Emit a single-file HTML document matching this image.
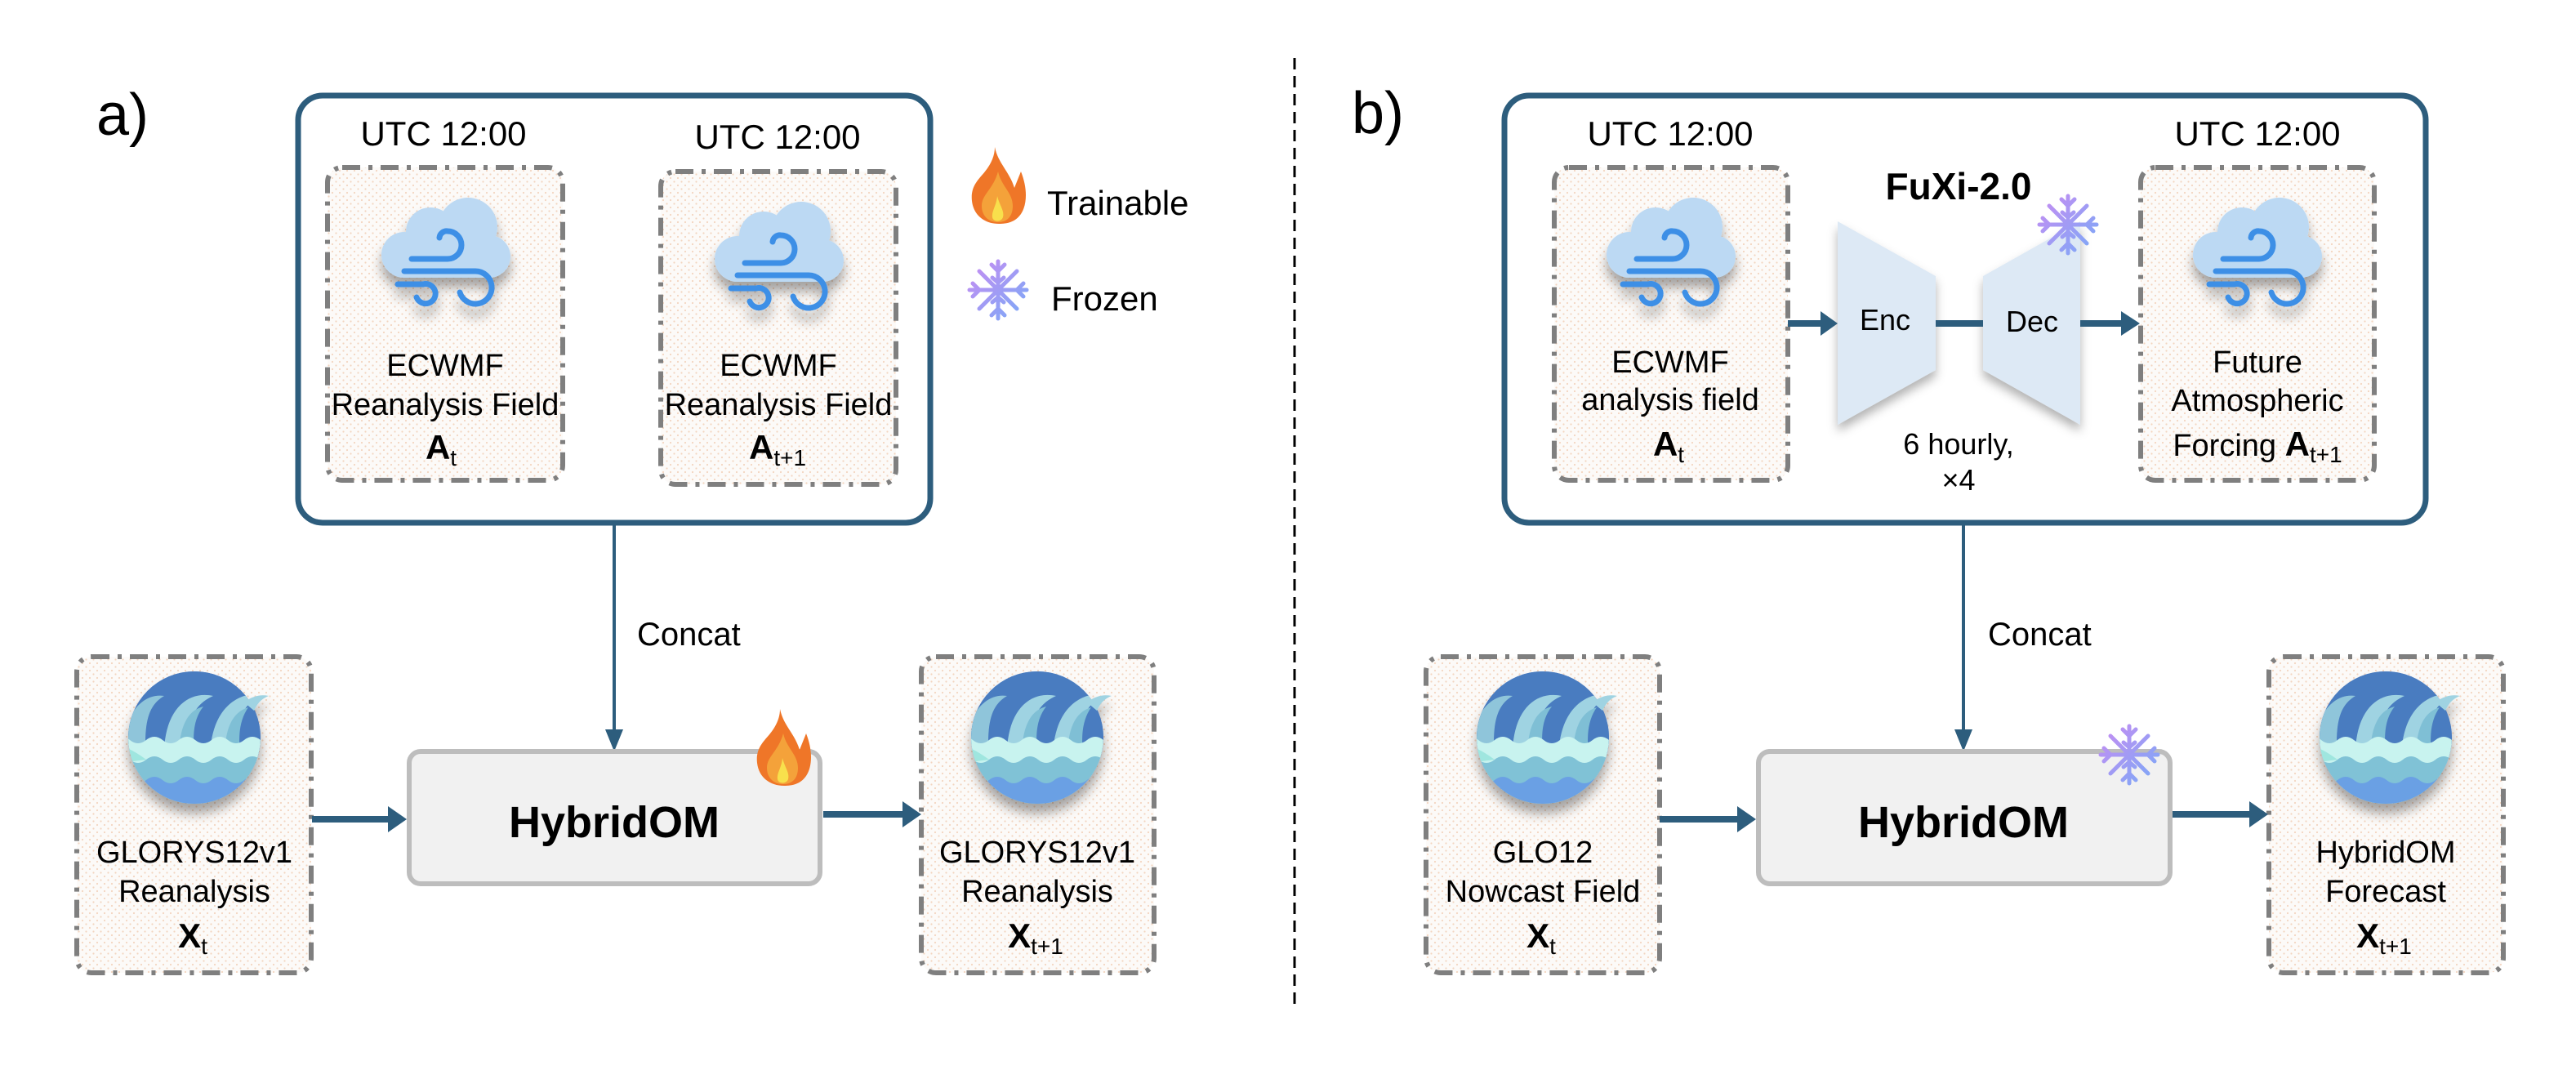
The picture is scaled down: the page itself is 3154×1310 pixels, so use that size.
<!DOCTYPE html>
<html><head><meta charset="utf-8"><style>
html,body{margin:0;padding:0;background:#fff;}
svg{display:block;}
text{font-family:"Liberation Sans",sans-serif;fill:#000;}
</style></head><body>
<svg width="3154" height="1310" viewBox="0 0 3154 1310" xmlns="http://www.w3.org/2000/svg">
<defs>
<pattern id="dots" width="9" height="9" patternUnits="userSpaceOnUse">
<rect width="9" height="9" fill="#fcfaf8"/>
<circle cx="2" cy="2" r="1.1" fill="#f3d5c0"/>
<circle cx="6.5" cy="6.5" r="1.1" fill="#f3d5c0"/>
</pattern>
<filter id="sh" x="-30%" y="-30%" width="160%" height="170%">
<feDropShadow dx="0" dy="12" stdDeviation="7" flood-color="#000" flood-opacity="0.35"/>
</filter>
<filter id="sh2" x="-30%" y="-30%" width="160%" height="160%">
<feDropShadow dx="0" dy="8" stdDeviation="6" flood-color="#000" flood-opacity="0.3"/>
</filter>
<linearGradient id="snowg" gradientUnits="userSpaceOnUse" x1="0" y1="0" x2="74" y2="74">
<stop offset="0" stop-color="#c98cf2"/><stop offset="1" stop-color="#78aaf7"/>
</linearGradient>
<g id="cloud">
<g filter="url(#sh)">
<g fill="#bcd9f3">
<circle cx="30" cy="72" r="28"/>
<circle cx="62" cy="44" r="30"/>
<circle cx="108" cy="38" r="36"/>
<circle cx="134" cy="74" r="26"/>
<rect x="30" y="50" width="104" height="50"/>
</g>
<g fill="none" stroke="#3d8fe6" stroke-width="7" stroke-linecap="round">
<path d="M39,77 H83 A17,17 0 0 0 83,43 A9,9 0 0 0 73,51"/>
<path d="M30,92 H117 A20,20 0 1 1 98,118"/>
<path d="M22,108 H53 A12,12 0 1 1 45,124"/>
</g>
</g>
</g>
<clipPath id="oc"><circle cx="99" cy="93" r="81"/></clipPath>
<g id="ocean">
<g filter="url(#sh)">
<circle cx="99" cy="93" r="81" fill="#4a7bc0"/>
<g clip-path="url(#oc)">
<rect x="0" y="0" width="200" height="200" fill="#4a7bc0"/>
<path d="M10,120 C10,65 35,38 62,42 C45,52 36,70 40,120 Z" fill="#8fc5da"/>
<path d="M62,120 C60,60 90,35 122,42 C100,52 88,70 90,120 Z" fill="#9fd3e2"/>
<path d="M80,120 C80,80 90,60 110,55 C98,70 96,90 100,120 Z" fill="#7fbfd5"/>
<path d="M118,120 C118,60 150,35 186,40 C160,48 148,70 150,120 Z" fill="#9fd3e2"/>
<path d="M136,120 C136,80 146,62 165,56 C154,72 152,92 156,120 Z" fill="#7fbfd5"/>
<path d="M0,96 Q10,88 20,96 T40,96 T60,96 T80,96 T100,96 T120,96 T140,96 T160,96 T180,96 T200,96 V200 H0 Z" fill="#c8f3ef"/>
<path d="M0,100 Q20,105 40,120 L0,125 Z" fill="#9fe6df"/>
<path d="M0,120 Q10,112 20,120 T40,120 T60,120 T80,120 T100,120 T120,120 T140,120 T160,120 T180,120 T200,120 V200 H0 Z" fill="#80c2d6"/>
<path d="M0,145 Q10,137 20,145 T40,145 T60,145 T80,145 T100,145 T120,145 T140,145 T160,145 T180,145 T200,145 V200 H0 Z" fill="#6aa0e4"/>
</g>
<path d="M160,50 C170,42 180,40 190,42 C180,46 176,52 172,60 Z" fill="#9fd3e2"/>
</g>
</g>
<g id="flame">
<path d="M30,0 C34,20 48,30 54,50 C58,40 60,35 62,30 C70,50 70,70 62,82 C55,92 45,94 35,94 C18,94 4,84 2,66 C0,48 10,40 18,30 C26,20 30,10 30,0 Z" fill="#ef7628"/>
<path d="M34,30 C38,48 52,56 52,72 C52,86 44,92 34,92 C22,92 14,84 14,72 C14,58 28,52 34,30 Z" fill="#f4a23a"/>
<path d="M33,60 C36,72 42,78 40,86 C38,92 28,92 27,86 C26,78 32,72 33,60 Z" fill="#f8e04c"/>
</g>
<g id="snow" fill="none" stroke="url(#snowg)" stroke-width="5" stroke-linecap="round">
<line x1="37" y1="2" x2="37" y2="72"/>
<line x1="2" y1="37" x2="72" y2="37"/>
<line x1="14" y1="14" x2="60" y2="60"/>
<line x1="14" y1="60" x2="60" y2="14"/>
<path d="M29,6 L37,14 L45,6 M29,68 L37,60 L45,68"/>
<path d="M6,29 L14,37 L6,45 M68,29 L60,37 L68,45"/>
<path d="M30,22 L37,28 L44,22 M30,52 L37,46 L44,52"/>
</g>
</defs>

<line x1="1585" y1="71" x2="1585" y2="1235" stroke="#000" stroke-width="3" stroke-dasharray="14 8"/>

<!-- ===== Panel a ===== -->
<text x="118" y="165" font-size="72">a)</text>
<rect x="365" y="117" width="774" height="523" rx="30" fill="#fff" stroke="#2d5d7d" stroke-width="7"/>
<text x="543" y="178" font-size="42" text-anchor="middle">UTC 12:00</text>
<text x="952" y="182" font-size="42" text-anchor="middle">UTC 12:00</text>

<g stroke="#7f7f7f" stroke-width="6" stroke-dasharray="22 10 5 10" fill="url(#dots)">
<rect x="401" y="205" width="288" height="383" rx="18"/>
<rect x="809" y="210" width="288" height="383" rx="18"/>
<rect x="94" y="804" width="287" height="387" rx="18"/>
<rect x="1128" y="804" width="285" height="387" rx="18"/>
<rect x="1746" y="804" width="286" height="387" rx="18"/>
<rect x="2778" y="804" width="287" height="387" rx="18"/>
</g>

<use href="#cloud" x="465" y="240"/>
<use href="#cloud" x="873" y="245"/>
<g font-size="38" text-anchor="middle">
<text x="545" y="460">ECWMF</text>
<text x="545" y="508">Reanalysis Field</text>
<text x="953" y="460">ECWMF</text>
<text x="953" y="508">Reanalysis Field</text>
</g>
<text x="540" y="562" font-size="42" font-weight="bold" text-anchor="middle">A<tspan font-size="28" dy="8" font-weight="normal">t</tspan></text>
<text x="952" y="562" font-size="42" font-weight="bold" text-anchor="middle">A<tspan font-size="28" dy="8" font-weight="normal">t+1</tspan></text>

<use href="#flame" x="1188" y="180"/>
<text x="1282" y="263" font-size="42">Trainable</text>
<use href="#snow" x="1185" y="318"/>
<text x="1287" y="380" font-size="42">Frozen</text>

<line x1="752" y1="640" x2="752" y2="896" stroke="#2d5d7d" stroke-width="4"/>
<polygon points="741,893 763,893 752,920" fill="#2d5d7d"/>
<text x="780" y="790" font-size="40">Concat</text>

<rect x="501" y="920" width="503" height="162" rx="14" fill="#f1f1f1" stroke="#bdbdbd" stroke-width="6"/>
<text x="752" y="1025" font-size="54" font-weight="bold" text-anchor="middle">HybridOM</text>
<use href="#flame" x="925" y="868"/>

<use href="#ocean" x="139" y="810"/>
<use href="#ocean" x="1171" y="810"/>
<g font-size="38" text-anchor="middle">
<text x="238" y="1056">GLORYS12v1</text>
<text x="238" y="1104">Reanalysis</text>
<text x="1270" y="1056">GLORYS12v1</text>
<text x="1270" y="1104">Reanalysis</text>
</g>
<text x="236" y="1160" font-size="42" font-weight="bold" text-anchor="middle">X<tspan font-size="28" dy="8" font-weight="normal">t</tspan></text>
<text x="1268" y="1160" font-size="42" font-weight="bold" text-anchor="middle">X<tspan font-size="28" dy="8" font-weight="normal">t+1</tspan></text>

<line x1="382" y1="1003" x2="478" y2="1003" stroke="#2d5d7d" stroke-width="8"/>
<polygon points="475,987 475,1019 498,1003" fill="#2d5d7d"/>
<line x1="1008" y1="997" x2="1108" y2="997" stroke="#2d5d7d" stroke-width="8"/>
<polygon points="1105,981 1105,1013 1128,997" fill="#2d5d7d"/>

<!-- ===== Panel b ===== -->
<text x="1655" y="163" font-size="72">b)</text>
<rect x="1842" y="117" width="1128" height="523" rx="30" fill="#fff" stroke="#2d5d7d" stroke-width="7"/>
<text x="2045" y="178" font-size="42" text-anchor="middle">UTC 12:00</text>
<text x="2764" y="178" font-size="42" text-anchor="middle">UTC 12:00</text>
<g stroke="#7f7f7f" stroke-width="6" stroke-dasharray="22 10 5 10" fill="url(#dots)">
<rect x="1903" y="205" width="286" height="383" rx="18"/>
<rect x="2621" y="205" width="286" height="383" rx="18"/>
</g>
<use href="#cloud" x="1965" y="240"/>
<use href="#cloud" x="2683" y="240"/>
<g font-size="38" text-anchor="middle">
<text x="2045" y="456">ECWMF</text>
<text x="2045" y="502">analysis field</text>
<text x="2764" y="456">Future</text>
<text x="2764" y="503">Atmospheric</text>
</g>
<text x="2043" y="558" font-size="42" font-weight="bold" text-anchor="middle">A<tspan font-size="28" dy="8" font-weight="normal">t</tspan></text>
<text x="2764" y="558" font-size="38" text-anchor="middle">Forcing <tspan font-weight="bold" font-size="42">A</tspan><tspan font-size="28" dy="8">t+1</tspan></text>

<text x="2398" y="244" font-size="46" font-weight="bold" text-anchor="middle">FuXi-2.0</text>
<g filter="url(#sh2)" fill="#dde9f5">
<polygon points="2250,271 2370,338 2370,453 2250,520"/>
<polygon points="2428,338 2547,271 2547,520 2428,453"/>
</g>
<line x1="2370" y1="396" x2="2428" y2="396" stroke="#2d5d7d" stroke-width="8"/>
<text x="2308" y="404" font-size="36" text-anchor="middle">Enc</text>
<text x="2488" y="406" font-size="36" text-anchor="middle">Dec</text>
<use href="#snow" x="2495" y="238"/>
<text x="2398" y="556" font-size="36" text-anchor="middle">6 hourly,</text>
<text x="2398" y="600" font-size="36" text-anchor="middle">×4</text>
<line x1="2189" y1="396" x2="2232" y2="396" stroke="#2d5d7d" stroke-width="8"/>
<polygon points="2229,381 2229,411 2250,396" fill="#2d5d7d"/>
<line x1="2547" y1="396" x2="2600" y2="396" stroke="#2d5d7d" stroke-width="8"/>
<polygon points="2597,381 2597,411 2620,396" fill="#2d5d7d"/>

<line x1="2404" y1="640" x2="2404" y2="896" stroke="#2d5d7d" stroke-width="4"/>
<polygon points="2393,893 2415,893 2404,920" fill="#2d5d7d"/>
<text x="2434" y="790" font-size="40">Concat</text>

<rect x="2153" y="920" width="504" height="162" rx="14" fill="#f1f1f1" stroke="#bdbdbd" stroke-width="6"/>
<text x="2404" y="1025" font-size="54" font-weight="bold" text-anchor="middle">HybridOM</text>
<use href="#snow" x="2570" y="887"/>

<use href="#ocean" x="1790" y="810"/>
<use href="#ocean" x="2822" y="810"/>
<g font-size="38" text-anchor="middle">
<text x="1889" y="1056">GLO12</text>
<text x="1889" y="1104">Nowcast Field</text>
<text x="2921" y="1056">HybridOM</text>
<text x="2921" y="1104">Forecast</text>
</g>
<text x="1887" y="1160" font-size="42" font-weight="bold" text-anchor="middle">X<tspan font-size="28" dy="8" font-weight="normal">t</tspan></text>
<text x="2919" y="1160" font-size="42" font-weight="bold" text-anchor="middle">X<tspan font-size="28" dy="8" font-weight="normal">t+1</tspan></text>

<line x1="2032" y1="1003" x2="2130" y2="1003" stroke="#2d5d7d" stroke-width="8"/>
<polygon points="2127,987 2127,1019 2150,1003" fill="#2d5d7d"/>
<line x1="2660" y1="997" x2="2757" y2="997" stroke="#2d5d7d" stroke-width="8"/>
<polygon points="2754,981 2754,1013 2777,997" fill="#2d5d7d"/>
</svg>
</body></html>
